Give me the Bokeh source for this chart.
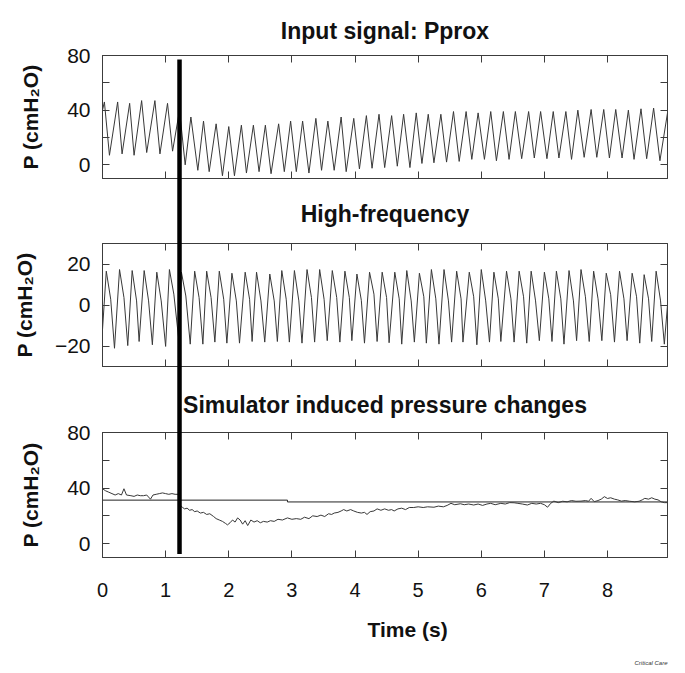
from bokeh.plotting import figure
from bokeh.models import Range1d, LinearAxis, FixedTicker, Title, GridBox
from bokeh.embed import file_html
from bokeh.resources import INLINE

# ---------------- data ----------------
# Panel 1: proximal pressure, alternating peaks / troughs (s, cmH2O)
pprox_time = [0.00, 0.03, 0.11, 0.24, 0.31, 0.43, 0.50, 0.62, 0.70, 0.83, 0.91, 1.03, 1.11, 1.22,
              1.31, 1.40, 1.51, 1.60, 1.69, 1.80, 1.90, 2.00, 2.09, 2.20, 2.28, 2.39, 2.48, 2.58,
              2.67, 2.79, 2.88, 2.98, 3.07, 3.17, 3.27, 3.38, 3.47, 3.57, 3.67, 3.78, 3.86, 3.98,
              4.07, 4.18, 4.27, 4.38, 4.47, 4.58, 4.67, 4.77, 4.87, 4.97, 5.06, 5.16, 5.25, 5.36,
              5.45, 5.56, 5.65, 5.76, 5.85, 5.95, 6.05, 6.15, 6.24, 6.35, 6.44, 6.54, 6.64, 6.75,
              6.84, 6.94, 7.04, 7.14, 7.23, 7.34, 7.43, 7.53, 7.63, 7.74, 7.83, 7.94, 8.03, 8.13,
              8.23, 8.33, 8.42, 8.53, 8.62, 8.73, 8.83, 8.95]
pprox_value = [40, 46, 7, 46, 8, 45, 7, 47, 9, 47, 8, 45, 10, 40,
               0, 35, -4, 32, -5, 30, -8, 28, -8, 29, -6, 29, -5, 29,
               -6.5, 30, -5, 32, -5, 32, -6, 34, -4, 32, -4, 35, -5, 34,
               -3, 36, -2.5, 37, -2, 36, -1, 37, -2, 38, 1, 37, 1.5, 37,
               2, 39, 2.5, 39, 4, 38, 4, 39, 3, 39, 4, 39, 4.5, 39,
               5, 39, 4.5, 39, 5, 39, 4, 40, 5.5, 40.5, 5.5, 40.5, 5, 40.5,
               5, 40, 4, 41, 4.5, 41.5, 3, 38]

# Panel 2: high-frequency component: start, per-cycle peak / shoulder / trough, end
hf_start = [0.00, -12]
hf_end = [8.95, 0]
hf_peak_time = [0.06, 0.27, 0.47, 0.66, 0.86, 1.06, 1.25, 1.46, 1.65, 1.85, 2.05, 2.26, 2.44, 2.65, 2.84,
                3.04, 3.24, 3.44, 3.64, 3.84, 4.03, 4.23, 4.43, 4.63, 4.82, 5.02, 5.21, 5.41, 5.61, 5.81,
                6.00, 6.20, 6.40, 6.60, 6.79, 7.00, 7.19, 7.39, 7.58, 7.78, 7.98, 8.19, 8.39, 8.58, 8.77]
hf_peak_value = [16.5, 17.3, 16.8, 16.8, 16.0, 17.3, 16.0, 16.5, 16.5, 16.5, 15.5, 16.0, 16.0, 15.1, 16.8,
                 16.8, 17.3, 17.3, 16.8, 16.5, 15.1, 16.0, 16.0, 16.0, 16.8, 15.5, 17.3, 17.3, 16.5, 16.0,
                 17.3, 16.0, 16.5, 16.5, 16.5, 16.0, 16.5, 16.8, 17.3, 16.5, 15.5, 16.5, 15.5, 14.8, 16.5]
hf_shoulder_time = [0.13, 0.34, 0.54, 0.73, 0.93, 1.13, 1.32, 1.53, 1.72, 1.92, 2.12, 2.33, 2.51, 2.72, 2.91,
                    3.11, 3.31, 3.51, 3.71, 3.91, 4.10, 4.30, 4.50, 4.70, 4.89, 5.09, 5.28, 5.48, 5.68, 5.88,
                    6.07, 6.27, 6.47, 6.67, 6.86, 7.07, 7.26, 7.46, 7.65, 7.85, 8.05, 8.26, 8.46, 8.65, 8.84]
hf_shoulder_value = [2.8, 3.6, 2.0, 2.0, 2.0, 5.3, 4.4, 3.6, 3.6, 2.8, 2.0, 2.8, 2.0, 2.0, 2.8,
                     2.0, 3.6, 2.8, 3.6, 3.6, 2.3, 5.3, 3.6, 3.0, 2.0, 4.0, 3.0, 2.0, 3.0, 4.0,
                     2.0, 3.0, 3.0, 4.0, 2.0, 3.0, 3.0, 2.0, 4.0, 3.0, 5.0, 3.0, 4.0, 3.0, 2.0]
hf_trough_time = [0.19, 0.40, 0.58, 0.79, 1.00, 1.22, 1.39, 1.59, 1.78, 1.97, 2.17, 2.37, 2.57, 2.77, 2.96,
                  3.16, 3.36, 3.56, 3.76, 3.95, 4.15, 4.35, 4.54, 4.74, 4.94, 5.13, 5.33, 5.53, 5.71, 5.93,
                  6.13, 6.31, 6.52, 6.72, 6.92, 7.12, 7.31, 7.51, 7.71, 7.91, 8.11, 8.31, 8.51, 8.70, 8.90]
hf_trough_value = [-21.1, -19.8, -17.8, -19.4, -20.2, -20.2, -19.1, -19.1, -18.1, -18.6, -18.6, -17.8, -18.1,
                   -17.8, -18.1, -18.6, -18.1, -17.4, -18.1, -17.4, -18.6, -17.8, -18.4, -19.1, -18.1, -18.6,
                   -19.1, -18.1, -18.1, -19.4, -18.1, -17.8, -18.1, -18.6, -17.4, -17.8, -19.1, -17.4, -17.8,
                   -17.4, -18.1, -17.4, -18.6, -17.8, -19.1]

# Panel 3: simulator induced pressure (noisy trace) and the set level (step)
sim_time = [0.00, 0.05, 0.10, 0.15, 0.20, 0.25, 0.30, 0.34, 0.38, 0.45, 0.50, 0.55, 0.60, 0.65, 0.70,
            0.76, 0.80, 0.85, 0.90, 0.95, 1.00, 1.05, 1.10, 1.15, 1.20,
            1.24, 1.27, 1.30, 1.34, 1.38, 1.42, 1.46, 1.50, 1.55, 1.60, 1.65, 1.70, 1.76, 1.80, 1.85,
            1.90, 1.95, 1.98, 2.02, 2.06, 2.10, 2.14, 2.18, 2.22, 2.26, 2.30, 2.35, 2.40, 2.45, 2.50,
            2.55, 2.61, 2.66, 2.72, 2.78, 2.85, 2.93, 3.00, 3.07, 3.14, 3.20, 3.27, 3.33, 3.40, 3.46,
            3.52, 3.58, 3.63, 3.67, 3.73, 3.78, 3.82, 3.87, 3.93, 3.98, 4.04, 4.10, 4.15, 4.19, 4.24,
            4.30, 4.35, 4.41, 4.47, 4.53, 4.58, 4.62, 4.68, 4.74, 4.80, 4.86, 4.93, 5.00, 5.08, 5.15,
            5.25, 5.32, 5.40, 5.46, 5.52, 5.58, 5.67, 5.73, 5.80, 5.88, 5.95, 6.02, 6.09, 6.15, 6.22,
            6.31, 6.38, 6.45, 6.52, 6.58, 6.65, 6.73, 6.80, 6.87, 6.94, 7.00, 7.05, 7.10, 7.15, 7.22,
            7.29, 7.36, 7.43, 7.50, 7.58, 7.65, 7.70, 7.74, 7.79, 7.85, 7.90, 7.95, 8.00, 8.05, 8.11,
            8.16, 8.22, 8.28, 8.35, 8.43, 8.50, 8.55, 8.59, 8.65, 8.70, 8.75, 8.80, 8.85, 8.90, 8.95]
sim_value = [39.5, 38, 37, 36, 35, 36, 35, 39.5, 35, 34.5, 34, 35, 34.5, 34.5, 35,
             32, 35, 35.5, 36, 36.5, 36, 35.5, 36, 35.5, 35.5,
             27, 26, 25, 25.5, 24, 24.5, 23, 23.5, 22, 22.5, 21, 21.5, 19.5, 18, 17,
             16, 14.5, 13.5, 15, 17, 15.5, 18.5, 17, 14, 16.5, 13, 17, 15.5, 16.5, 15,
             16, 15.5, 16.5, 16, 17.5, 17, 18.5, 17.5, 18, 17.5, 19, 18, 20, 19.5, 20.5,
             19.5, 21.5, 21, 22, 22.5, 23.5, 24.5, 23.5, 24.5, 23.5, 22.5, 22, 22.5, 21, 23,
             23.5, 25, 24, 25, 24, 24.5, 23.5, 25, 25.5, 24.5, 26, 26, 26.5, 26, 26.5,
             26.2, 27, 26.5, 27.5, 29, 28, 28.7, 28, 28.5, 27.8, 28.5, 27.5, 28.5, 29, 28,
             29, 28.5, 29.5, 29.4, 29, 28.5, 27.8, 29, 28.5, 29, 28, 26.2, 29, 30.6, 29.5,
             30.5, 30.1, 31, 30.5, 30.6, 31, 30.5, 32.6, 30.2, 31, 32, 33.8, 32.5, 33, 32,
             31.5, 30.6, 31, 30.5, 30.1, 30.5, 31.5, 32.6, 32, 33, 32, 31.5, 30.1, 29.5, 29.5]
set_time = [0.00, 2.93, 8.95]
set_value = [31.3, 30.0, 30.0]

# event marker (thick vertical line) across the three panels
marker_time = 1.22
marker_top = 77       # in panel-1 units (cmH2O)
marker_bottom = -7.5  # in panel-3 units (cmH2O)

x_ticks = [0, 1, 2, 3, 4, 5, 6, 7, 8]
p_ticks = [0, 20, 40, 60, 80]
p_labels = {20: "", 60: ""}
hf_ticks = [-20, 0, 20]

titles = ["Input signal: Pprox", "High-frequency", "Simulator induced pressure changes"]
y_label = "P (cmH\u2082O)"
x_label = "Time (s)"
source_note = "Critical Care"

# ---------------- layout constants ----------------
FONT = "Liberation Sans"
FRAME = "#3c3c3c"
TRACE = "#383838"
W = 684
BL, BR = 102, 17
H1, T1, B1 = 182, 55, 4
H2, T2, B2 = 188, 61, 4
H3, T3, B3 = 302, 62, 115
x_range = Range1d(0, 8.95)
yr1 = (-10, 80)
yr2 = (-30, 30)
yr3 = (-10, 80)


def axis(ticks, labels=True, overrides=None, size="20px", standoff=12):
    ax = LinearAxis(ticker=FixedTicker(ticks=ticks, minor_ticks=[]),
                    axis_line_color=FRAME, major_tick_line_color=FRAME,
                    major_tick_in=7, major_tick_out=0, minor_tick_in=0, minor_tick_out=0)
    if overrides:
        ax.major_label_overrides = overrides
    if labels:
        ax.major_label_text_font = FONT
        ax.major_label_text_font_size = size
        ax.major_label_text_color = "#111111"
        ax.major_label_standoff = standoff
    else:
        ax.major_label_text_font_size = "1px"
        ax.major_label_text_color = None
        ax.major_label_standoff = 0
    return ax


def panel(title, height, btop, bbottom, yr, yticks, yover, lab_standoff, title_standoff):
    p = figure(width=W, height=height, x_range=x_range, y_range=Range1d(*yr),
               output_backend="svg", toolbar_location=None,
               x_axis_location=None, y_axis_location=None,
               min_border_left=BL, min_border_right=BR,
               min_border_top=btop, min_border_bottom=bbottom)
    p.grid.visible = False
    p.outline_line_color = FRAME
    p.outline_line_width = 1
    p.background_fill_color = "white"
    p.border_fill_color = "white"
    p.title.text = title
    p.title.align = "center"
    p.title.text_font = FONT
    p.title.text_font_size = "23px"
    p.title.text_font_style = "bold"
    p.title.text_color = "#111111"
    p.title.standoff = title_standoff
    left = axis(yticks, True, yover, "21px")
    left.axis_label = y_label
    left.axis_label_text_font = FONT
    left.axis_label_text_font_size = "21px"
    left.axis_label_text_font_style = "bold"
    left.axis_label_text_color = "#111111"
    left.axis_label_standoff = lab_standoff
    p.add_layout(left, "left")
    p.add_layout(axis(yticks, False), "right")
    p.add_layout(axis(x_ticks, False), "above")
    return p


p1 = panel(titles[0], H1, T1, B1, yr1, p_ticks, p_labels, 22, 24)
p1.add_layout(axis(x_ticks, False), "below")
p1.line(pprox_time, pprox_value, line_color=TRACE, line_width=1)

p2 = panel(titles[1], H2, T2, B2, yr2, hf_ticks, None, 16, 33)
p2.add_layout(axis(x_ticks, False), "below")
hf_t = [hf_start[0]]
hf_v = [hf_start[1]]
for a, b, c, d, e, f in zip(hf_peak_time, hf_peak_value, hf_shoulder_time, hf_shoulder_value,
                            hf_trough_time, hf_trough_value):
    hf_t += [a, c, e]
    hf_v += [b, d, f]
hf_t.append(hf_end[0])
hf_v.append(hf_end[1])
p2.line(hf_t, hf_v, line_color=TRACE, line_width=1)

p3 = panel(titles[2], H3, T3, B3, yr3, p_ticks, p_labels, 22, 29)
p3.add_layout(axis(x_ticks, True, None, "20px", 25), "below")
p3.add_layout(Title(text=x_label, align="left", offset=265, text_font=FONT,
                    text_font_size="21px", text_font_style="bold", text_color="#111111",
                    standoff=32), "below")
p3.add_layout(Title(text=source_note, align="right", text_font=FONT, text_font_size="6px",
                    text_font_style="italic", text_color="#333333", standoff=3), "below")
p3.step(set_time, set_value, mode="after", line_color="#222222", line_width=1)
p3.line(sim_time, sim_value, line_color=TRACE, line_width=1)

# ---------------- transparent overlay carrying the event marker ----------------
# overlay frame runs from the top of panel 1 to the bottom of panel 3, in panel-1 units
F1_TOP, F1_H = T1, H1 - T1 - B1
F3_TOP, F3_H = H1 + H2 + T3, H3 - T3 - B3
HT = H1 + H2 + H3
ov_top_px, ov_bot_px = F1_TOP, HT - B3
u_per_px = (yr1[1] - yr1[0]) / F1_H
ov_range = Range1d(yr1[1] - (ov_bot_px - ov_top_px) * u_per_px, yr1[1])
marker_bottom_px = F3_TOP + (yr3[1] - marker_bottom) / (yr3[1] - yr3[0]) * F3_H
marker_bottom_ov = yr1[1] - (marker_bottom_px - ov_top_px) * u_per_px

ov = figure(width=W, height=HT, x_range=x_range, y_range=ov_range,
            output_backend="svg", toolbar_location=None,
            x_axis_location=None, y_axis_location=None,
            min_border_left=BL, min_border_right=BR,
            min_border_top=ov_top_px, min_border_bottom=B3)
ov.grid.visible = False
ov.outline_line_color = None
ov.background_fill_color = None
ov.border_fill_color = None
ov.segment(x0=[marker_time], y0=[marker_top], x1=[marker_time], y1=[marker_bottom_ov],
           line_color="black", line_width=4.5)

layout = GridBox(children=[(p1, 0, 0), (p2, 1, 0), (p3, 2, 0), (ov, 0, 0, 3, 1)], spacing=0)
open("out.html", "w").write(file_html(layout, INLINE))
